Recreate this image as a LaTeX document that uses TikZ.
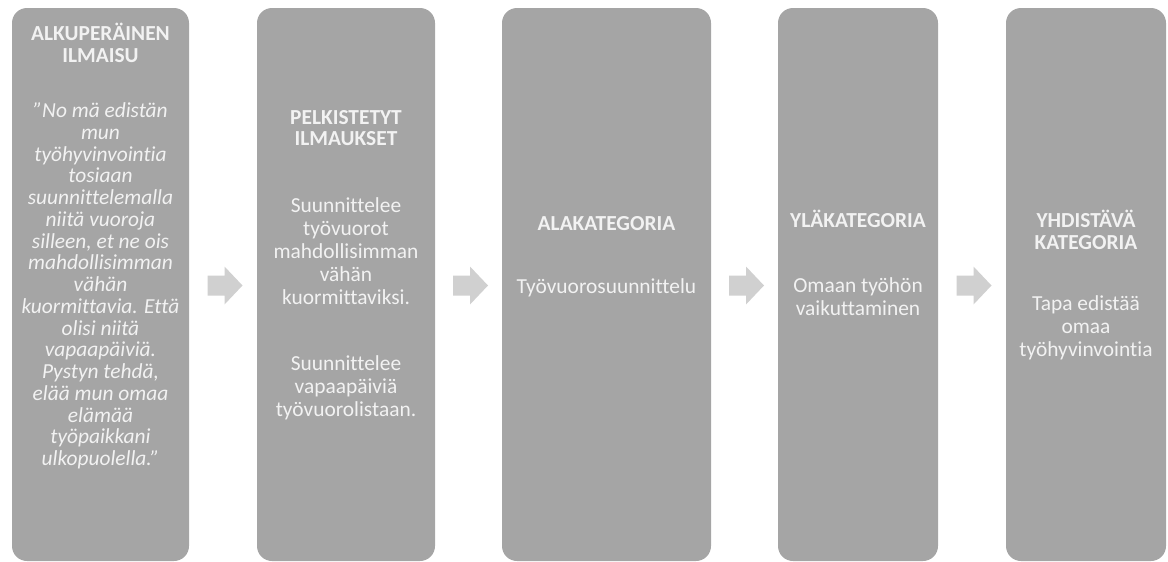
\documentclass[tikz,border=0pt]{standalone}
\usepackage{fontspec}
\setmainfont{Carlito}[Ligatures={NoCommon}]
\usetikzlibrary{calc}
\definecolor{boxgray}{HTML}{A5A5A5}
\definecolor{arrowgray}{HTML}{D0D0D0}
\definecolor{txt}{HTML}{F2F2F2}
\begin{document}
\begin{tikzpicture}[x=1pt,y=-1pt,
  stage/.style={fill=boxgray, rounded corners=15pt, minimum height=553pt, inner sep=0pt, draw=none},
  head/.style={text=txt, font=\fontsize{21.4}{21.5}\selectfont\bfseries, align=center, inner sep=0pt},
  body/.style={text=txt, font=\fontsize{21.4}{23}\selectfont, align=center, inner sep=0pt},
  quote/.style={text=txt, font=\fontsize{21.4}{21.75}\selectfont\itshape, align=center, inner sep=0pt},
  blockarrow/.style={fill=arrowgray, draw=none}]
\useasboundingbox (0,0) rectangle (1168,562);

% five stages
\node[stage, minimum width=177pt] (s1) at (100.5,284.5) {};
\node[stage, minimum width=178pt] (s2) at (346,284.5) {};
\node[stage, minimum width=209pt] (s3) at (606.5,284.5) {};
\node[stage, minimum width=160pt] (s4) at (858,284.5) {};
\node[stage, minimum width=160pt] (s5) at (1086,284.5) {};

% stage texts
\node[head] (h1) at (100.5,43) {ALKUPERÄINEN\\ILMAISU};
\node[quote] (q1) at (100.5,286) {”No mä edistän\\mun\\työhyvinvointia\\tosiaan\\suunnittelemalla\\niitä vuoroja\\silleen, et ne ois\\mahdollisimman\\vähän\\kuormittavia. Että\\olisi niitä\\vapaapäiviä.\\Pystyn tehdä,\\elää mun omaa\\elämää\\työpaikkani\\ulkopuolella.”};

\node[head] (h2) at (346,128) {PELKISTETYT\\ILMAUKSET};
\node[body] (b2a) at (346,251.5) {Suunnittelee\\työvuorot\\mahdollisimman\\vähän\\kuormittaviksi.};
\node[body] (b2b) at (346,387.5) {Suunnittelee\\vapaapäiviä\\työvuorolistaan.};

\node[head] (h3) at (606.5,224) {ALAKATEGORIA};
\node[body] (b3) at (606.5,288) {Työvuorosuunnittelu};

\node[head] (h4) at (858,219) {YLÄKATEGORIA};
\node[body] (b4) at (858,296.5) {Omaan työhön\\vaikuttaminen};

\node[head] (h5) at (1086,230) {YHDISTÄVÄ\\KATEGORIA};
\node[body] (b5) at (1086,327.5) {Tapa edistää\\omaa\\työhyvinvointia};

% block arrows between neighbouring stages
\foreach \a/\b in {s1/s2,s2/s3,s3/s4,s4/s5}{
  \coordinate (m\a) at ($(\a.east)!0.5!(\b.west)+(1.5,1)$);
  \fill[blockarrow, shift={(m\a)}]
    (-17,-10) -- (0,-10) -- (0,-19) -- (18,0) -- (0,19) -- (0,10) -- (-17,10) -- cycle;
}
\end{tikzpicture}
\end{document}
